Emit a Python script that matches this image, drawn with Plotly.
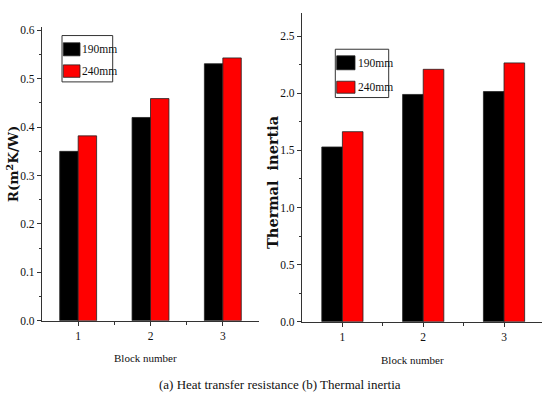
import plotly.graph_objects as go

categories = [1, 2, 3]
series_names = ["190mm", "240mm"]
resistance_190 = [0.350, 0.420, 0.531]
resistance_240 = [0.382, 0.459, 0.543]
inertia_190 = [1.53, 1.99, 2.015]
inertia_240 = [1.664, 2.21, 2.266]
colors = ["#000000", "#ff0000"]
x_tick_labels = ["1", "2", "3"]

W, H = 542, 404
SERIF = "Liberation Serif"
TITLE_FONT = "DejaVu Serif"


def px(x):
    return x / W


def py(y):
    return 1 - y / H


fig = go.Figure()

for name, vals, col in zip(series_names, [resistance_190, resistance_240], colors):
    fig.add_trace(go.Bar(x=categories, y=vals, name=name, marker_color=col,
                         marker_line_color="#222222", marker_line_width=0.8,
                         xaxis="x", yaxis="y", showlegend=False, offsetgroup=name))
for name, vals, col in zip(series_names, [inertia_190, inertia_240], colors):
    fig.add_trace(go.Bar(x=categories, y=vals, name=name, marker_color=col,
                         marker_line_color="#222222", marker_line_width=0.8,
                         xaxis="x2", yaxis="y2", showlegend=False, offsetgroup=name))

axis_common = dict(showgrid=False, zeroline=False, showline=True, linecolor="#333333",
                   linewidth=1.3, ticks="outside", ticklen=4, tickwidth=1,
                   tickcolor="#333333", tickfont=dict(family=SERIF, size=11.5, color="#111111"))

fig.update_layout(
    width=W, height=H,
    margin=dict(l=0, r=0, t=0, b=0),
    paper_bgcolor="white", plot_bgcolor="white",
    font=dict(family=SERIF, color="#111111"),
    barmode="group", bargap=0.49, bargroupgap=0,
    xaxis=dict(domain=[px(42), px(259)], range=[0.5, 3.5], anchor="y",
               tickvals=categories, ticktext=x_tick_labels,
               minor=dict(tickvals=[1.5, 2.5], ticklen=3, ticks="outside", tickcolor="#333333"),
               **axis_common),
    yaxis=dict(domain=[py(325), py(25)], range=[0, 0.606], anchor="x",
               tickvals=[0, 0.1, 0.2, 0.3, 0.4, 0.5, 0.6],
               ticktext=["0.0", "0.1", "0.2", "0.3", "0.4", "0.5", "0.6"],
               minor=dict(tickvals=[0.05, 0.15, 0.25, 0.35, 0.45, 0.55], ticklen=2,
                          ticks="outside", tickcolor="#333333"),
               **axis_common),
    xaxis2=dict(domain=[px(302), 1.0], range=[0.5, 3.47], anchor="y2",
                tickvals=categories, ticktext=x_tick_labels,
                minor=dict(tickvals=[1.5, 2.5], ticklen=3, ticks="outside", tickcolor="#333333"),
                **axis_common),
    yaxis2=dict(domain=[py(326), py(10)], range=[0, 2.705], anchor="x2",
                tickvals=[0, 0.5, 1.0, 1.5, 2.0, 2.5],
                ticktext=["0.0", "0.5", "1.0", "1.5", "2.0", "2.5"],
                minor=dict(tickvals=[0.25, 0.75, 1.25, 1.75, 2.25], ticklen=2,
                           ticks="outside", tickcolor="#333333"),
                **axis_common),
)

# Legends drawn as boxes
legend_specs = [
    dict(box=(62, 33.3, 112.7, 80.7), sw_x=(63.3, 80), sw_y=[(40.7, 54), (63.3, 76)], tx=80.5),
    dict(box=(335.3, 47.3, 388.7, 96.7), sw_x=(336.7, 355), sw_y=[(54, 68.3), (80, 92.3)], tx=355.5),
]
for spec in legend_specs:
    x0, y0, x1, y1 = spec["box"]
    fig.add_shape(type="rect", xref="paper", yref="paper", x0=px(x0), x1=px(x1),
                  y0=py(y1), y1=py(y0), line=dict(color="#333333", width=1), fillcolor="white")
    for (sy0, sy1), col, name in zip(spec["sw_y"], colors, series_names):
        fig.add_shape(type="rect", xref="paper", yref="paper",
                      x0=px(spec["sw_x"][0]), x1=px(spec["sw_x"][1]),
                      y0=py(sy1), y1=py(sy0), line=dict(color="#222222", width=0.8),
                      fillcolor=col)
        fig.add_annotation(xref="paper", yref="paper", x=px(spec["tx"]), y=py((sy0 + sy1) / 2),
                           text=name, showarrow=False, xanchor="left", yanchor="middle",
                           font=dict(family=SERIF, size=11.5, color="#111111"))

# Axis titles
fig.add_annotation(xref="paper", yref="paper", x=px(13), y=py(165), text="<b>R(m<sup>2</sup>K/W)</b>",
                   showarrow=False, textangle=-90, xanchor="center", yanchor="middle",
                   font=dict(family=TITLE_FONT, size=13.5, color="#111111"))
fig.add_annotation(xref="paper", yref="paper", x=px(273), y=py(183), text="<b>Thermal  inertia</b>",
                   showarrow=False, textangle=-90, xanchor="center", yanchor="middle",
                   font=dict(family=TITLE_FONT, size=14.5, color="#111111"))
fig.add_annotation(xref="paper", yref="paper", x=px(145), y=py(363), text="Block number",
                   showarrow=False, xanchor="center", yanchor="middle",
                   font=dict(family=SERIF, size=11, color="#111111"))
fig.add_annotation(xref="paper", yref="paper", x=px(412), y=py(365), text="Block number",
                   showarrow=False, xanchor="center", yanchor="middle",
                   font=dict(family=SERIF, size=11, color="#111111"))
fig.add_annotation(xref="paper", yref="paper", x=px(280), y=py(390),
                   text="(a) Heat transfer resistance (b) Thermal inertia",
                   showarrow=False, xanchor="center", yanchor="middle",
                   font=dict(family=SERIF, size=13, color="#111111"))

fig.write_html("out.html", config={"displayModeBar": False},
               post_script="document.body.style.margin='0px';document.body.style.overflow='hidden';")
